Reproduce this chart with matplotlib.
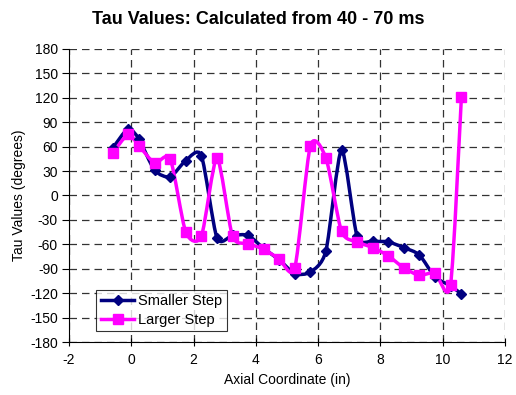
import matplotlib
matplotlib.use("Agg")
import matplotlib.pyplot as plt
import numpy as np
from matplotlib.path import Path
from matplotlib.patches import PathPatch

plt.rcParams['font.family'] = ['Liberation Sans', 'DejaVu Sans']
plt.rcParams['axes.unicode_minus'] = False

# axial positions (in) and tau values (degrees)
axial = [-0.6, -0.1, 0.25, 0.75, 1.25, 1.75, 2.25, 2.75, 3.25, 3.75, 4.25, 4.75,
         5.25, 5.75, 6.25, 6.75, 7.25, 7.75, 8.25, 8.75, 9.25, 9.75, 10.25, 10.6]
smaller_step = [58, 82, 69, 31, 23, 43, 49, -52, -49, -49, -65, -79,
                -96, -94, -68, 56, -50, -56, -57, -64, -73, -100, -111, -121]
larger_step = [52, 75, 61, 40, 45, -45, -50, 46, -50, -59, -66, -78,
               -89, 61, 46, -44, -57, -64, -74, -89, -98, -95, -110, 121]


def smooth_path(xs, ys, k=0.12):
    # excel-style smoothed line: bezier segments through every point
    pts = np.column_stack([xs, ys]).astype(float)
    n = len(pts)
    verts = [pts[0]]
    codes = [Path.MOVETO]
    for i in range(n - 1):
        p0 = pts[max(i - 1, 0)]
        p1 = pts[i]
        p2 = pts[i + 1]
        p3 = pts[min(i + 2, n - 1)]
        c1 = p1 + (p2 - p0) * k
        c2 = p2 - (p3 - p1) * k
        verts += [c1, c2, p2]
        codes += [Path.CURVE4] * 3
    return Path(verts, codes)


fig = plt.figure(figsize=(5.16, 3.95), dpi=100)
ax = fig.add_axes([69 / 516, 1 - 342 / 395, 436 / 516, 293 / 395])

series = [
    (smaller_step, '#000080', 'D', 5, 'Smaller Step'),
    (larger_step, '#FF00FF', 's', 7.5, 'Larger Step'),
]
for vals, col, mk, ms, lab in series:
    ax.add_patch(PathPatch(smooth_path(axial, vals), fill=False,
                           edgecolor=col, lw=2.5, zorder=3))
    ax.plot(axial, vals, linestyle='none', marker=mk, markersize=ms,
            color=col, zorder=4)
    # legend proxy
    ax.plot([], [], color=col, lw=2.5, marker=mk, markersize=ms, label=lab)

ax.set_xlim(-2, 12)
ax.set_ylim(-180, 180)
ax.set_xticks(np.arange(-2, 13, 2))
ax.set_yticks(np.arange(-180, 181, 30))
ax.grid(True, color='#333333', linestyle=(0, (6, 4)), linewidth=0.9)
ax.set_axisbelow(True)

ax.spines['top'].set_visible(False)
ax.spines['right'].set_visible(False)
ax.tick_params(axis='y', direction='out', length=5, labelsize=10, pad=3)
ax.tick_params(axis='x', direction='inout', length=6, labelsize=10, pad=5)

ax.set_xlabel('Axial Coordinate (in)', fontsize=10, labelpad=4)
ax.set_ylabel('Tau Values (degrees)', fontsize=10, labelpad=3)
fig.text(0.5, 1 - 20 / 395, 'Tau Values: Calculated from 40 - 70 ms',
         fontsize=13, fontweight='bold', ha='center', va='center')

leg = ax.legend(loc='lower left', bbox_to_anchor=(0.063, 0.037), fontsize=10.5,
                frameon=True, fancybox=False, edgecolor='black',
                handlelength=2.3, borderpad=0.3, labelspacing=0.3,
                handletextpad=0.25, borderaxespad=0)
leg.get_frame().set_linewidth(0.8)

fig.savefig('out.png', dpi=100)
